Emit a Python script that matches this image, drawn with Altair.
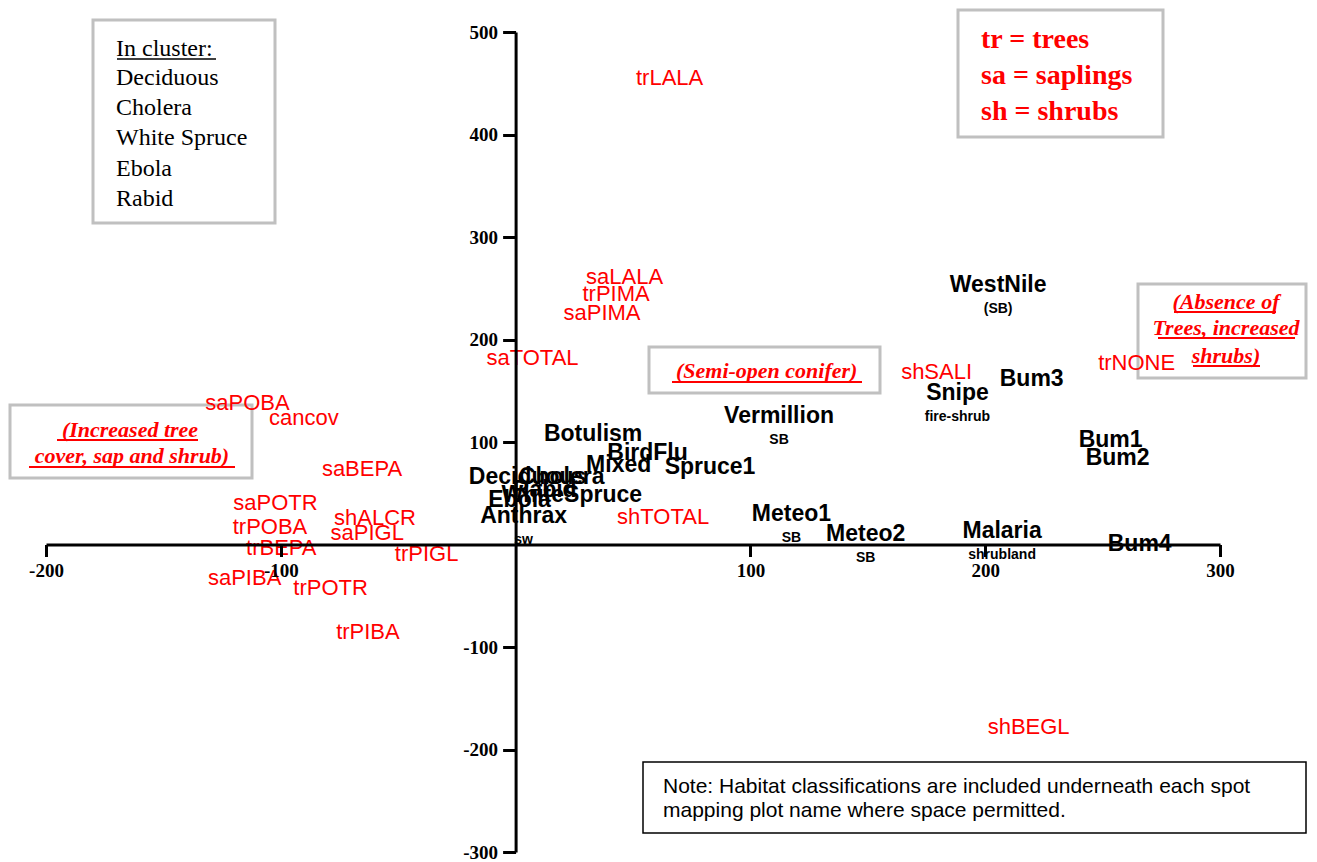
import altair as alt
import pandas as pd

# ---- red variable vectors (tr = trees, sa = saplings, sh = shrubs) ----
var_labels = ["trLALA", "saLALA", "trPIMA", "saPIMA", "saTOTAL", "saPOBA", "cancov",
              "saBEPA", "saPOTR", "trPOBA", "trBEPA", "saPIBA", "trPOTR", "trPIBA",
              "shALCR", "saPIGL", "trPIGL", "shTOTAL", "shSALI", "trNONE", "shBEGL"]
var_x = [65.6, 46.4, 42.8, 36.8, 7.2, -114.2, -90.2,
         -65.4, -102.3, -104.6, -99.8, -115.4, -78.8, -62.9,
         -59.9, -63.2, -37.9, 62.8, 179.3, 264.5, 218.5]
var_y = [455.2, 260.7, 244.0, 225.5, 181.6, 138.3, 123.7,
         73.3, 40.1, 16.7, -3.8, -33.1, -42.8, -85.1,
         25.5, 11.5, -9.7, 26.8, 168.3, 177.1, -178.0]

# ---- black spot-mapping plots ----
site_labels = ["WestNile", "Bum3", "Snipe", "Vermillion", "Botulism", "BirdFlu", "Mixed",
               "Spruce1", "Deciduous", "Cholera", "Rabid", "WhiteSpruce", "Ebola", "Anthrax",
               "Meteo1", "Meteo2", "Malaria", "Bum1", "Bum2", "Bum4"]
site_x = [205.5, 219.8, 188.2, 112.2, 33.0, 56.2, 43.9,
          82.8, 5.1, 19.6, 12.4, 23.9, 1.7, 3.4,
          117.5, 149.1, 207.2, 253.4, 256.4, 265.8]
site_y = [253.2, 161.5, 147.8, 125.4, 107.8, 89.3, 77.6,
          75.6, 65.9, 65.9, 53.2, 48.3, 43.4, 27.8,
          29.8, 10.2, 13.2, 102.0, 84.4, 0.5]
site_habitat = ["(SB)", "", "fire-shrub", "SB", "", "", "",
                "", "", "", "", "", "", "sw",
                "SB", "SB", "shrubland", "", "", ""]

# ---- axes ----
x_domain = [-200, 300]
y_domain = [-300, 500]
x_ticks = [-200, -100, 100, 200, 300]
y_ticks = [-300, -200, -100, 100, 200, 300, 400, 500]

# ---- annotation texts ----
cluster_title = "In cluster:"
cluster_items = ["Deciduous", "Cholera", "White Spruce", "Ebola", "Rabid"]
key_lines = ["tr = trees", "sa = saplings", "sh = shrubs"]
left_note = ["(Increased tree", "cover, sap and shrub)"]
mid_note = ["(Semi-open conifer)"]
right_note = ["(Absence of", "Trees, increased", "shrubs)"]
foot_note = ["Note: Habitat classifications are included underneath each spot",
             "mapping plot name where space permitted."]

W, H = 1174, 820
# horizontal axis sits at y = 0, vertical axis at x = 0
x_axis_off = -H * (0 - y_domain[0]) / (y_domain[1] - y_domain[0])
y_axis_off = -W * (0 - x_domain[0]) / (x_domain[1] - x_domain[0])

var_df = pd.DataFrame({"label": var_labels, "x": var_x, "y": var_y})
site_df = pd.DataFrame({"label": site_labels, "x": site_x, "y": site_y, "habitat": site_habitat})
one = pd.DataFrame({"k": [0]})

axis_common = dict(grid=False, domainColor="black", domainWidth=3, tickColor="black",
                   tickWidth=3, labelFont="Liberation Serif", labelFontWeight="bold",
                   labelFontSize=19, labelColor="black", labelOverlap=False,
                   labelFlush=False, zindex=1, labelExpr="datum.value + ''")

X = alt.X("x:Q", title="", scale=alt.Scale(domain=x_domain, nice=False, zero=False),
          axis=alt.Axis(values=x_ticks, offset=x_axis_off, tickSize=12, labelPadding=5,
                        **axis_common))
Y = alt.Y("y:Q", title="", scale=alt.Scale(domain=y_domain, nice=False, zero=False),
          axis=alt.Axis(values=y_ticks, offset=y_axis_off, tickSize=13, labelPadding=5,
                        **axis_common))


def box(x1, y1, x2, y2, color="#c0c0c0", sw=3):
    return alt.Chart(one).mark_rect(fill="white", stroke=color, strokeWidth=sw).encode(
        x=alt.value(x1), x2=alt.value(x2), y=alt.value(y1), y2=alt.value(y2))


def txt(s, x, y, font, size, color, weight="normal", style="normal", align="left"):
    return alt.Chart(one).mark_text(font=font, fontSize=size, color=color, fontWeight=weight,
                                    fontStyle=style, align=align, baseline="alphabetic").encode(
        x=alt.value(x), y=alt.value(y), text=alt.value(s))


def uline(x1, x2, y, color="red", sw=2):
    return alt.Chart(one).mark_rule(color=color, strokeWidth=sw).encode(
        x=alt.value(x1), x2=alt.value(x2), y=alt.value(y))


layers = []
# boxes
layers += [box(47, -12, 229, 191), box(912, -22, 1117, 105), box(-36, 373, 206, 446),
           box(603, 315, 834, 361), box(1092, 252, 1260, 346),
           box(597, 730, 1260, 801, color="black", sw=1.5)]

# data
layers.append(alt.Chart(var_df).mark_text(font="Liberation Sans", fontSize=22, color="red",
                                          align="center", baseline="middle").encode(
    x=X, y=Y, text="label:N"))
layers.append(alt.Chart(site_df).mark_text(font="Liberation Sans", fontSize=23, color="black",
                                           fontWeight="bold", align="center",
                                           baseline="middle").encode(x=X, y=Y, text="label:N"))
layers.append(alt.Chart(site_df).transform_filter("datum.habitat != ''").mark_text(
    font="Liberation Sans", fontSize=14, color="black", fontWeight="bold", align="center",
    baseline="middle", dy=24).encode(x=X, y=Y, text="habitat:N"))

# cluster legend
layers.append(txt(cluster_title, 70, 24, "Liberation Serif", 24, "black"))
layers.append(uline(71, 170, 27, color="black", sw=1.5))
for i, s in enumerate(cluster_items):
    layers.append(txt(s, 70, 53 + 30.2 * i, "Liberation Serif", 24, "black"))

# key
for i, s in enumerate(key_lines):
    layers.append(txt(s, 935, 16 + 36 * i, "Liberation Serif", 28, "red", weight="bold"))

# region notes
nf = dict(font="Liberation Serif", size=22, color="red", weight="bold", style="italic", align="center")
layers.append(txt(left_note[0], 84, 404.7, **nf))
layers.append(txt(left_note[1], 86, 431.3, **nf))
layers += [uline(11, 152, 408), uline(-17, 189, 435)]
layers.append(txt(mid_note[0], 720.7, 346.3, **nf))
layers.append(uline(626, 816, 350))
for s, yb in zip(right_note, [277.3, 303, 330.7]):
    layers.append(txt(s, 1180, yb, **nf))
layers += [uline(1128, 1230, 280), uline(1112, 1249, 306), uline(1147, 1214, 334)]

# foot note
layers.append(txt(foot_note[0], 617, 761, "Liberation Sans", 21, "black"))
layers.append(txt(foot_note[1], 617, 785, "Liberation Sans", 21, "black"))

chart = alt.layer(*layers).properties(
    width=W, height=H,
    autosize=alt.AutoSizeParams(type="none"),
    padding={"left": 38, "top": 24, "right": 89, "bottom": 12},
    background="white",
).configure_view(strokeWidth=0)

chart.save("out.html", embed_options={"renderer": "svg", "actions": False})
